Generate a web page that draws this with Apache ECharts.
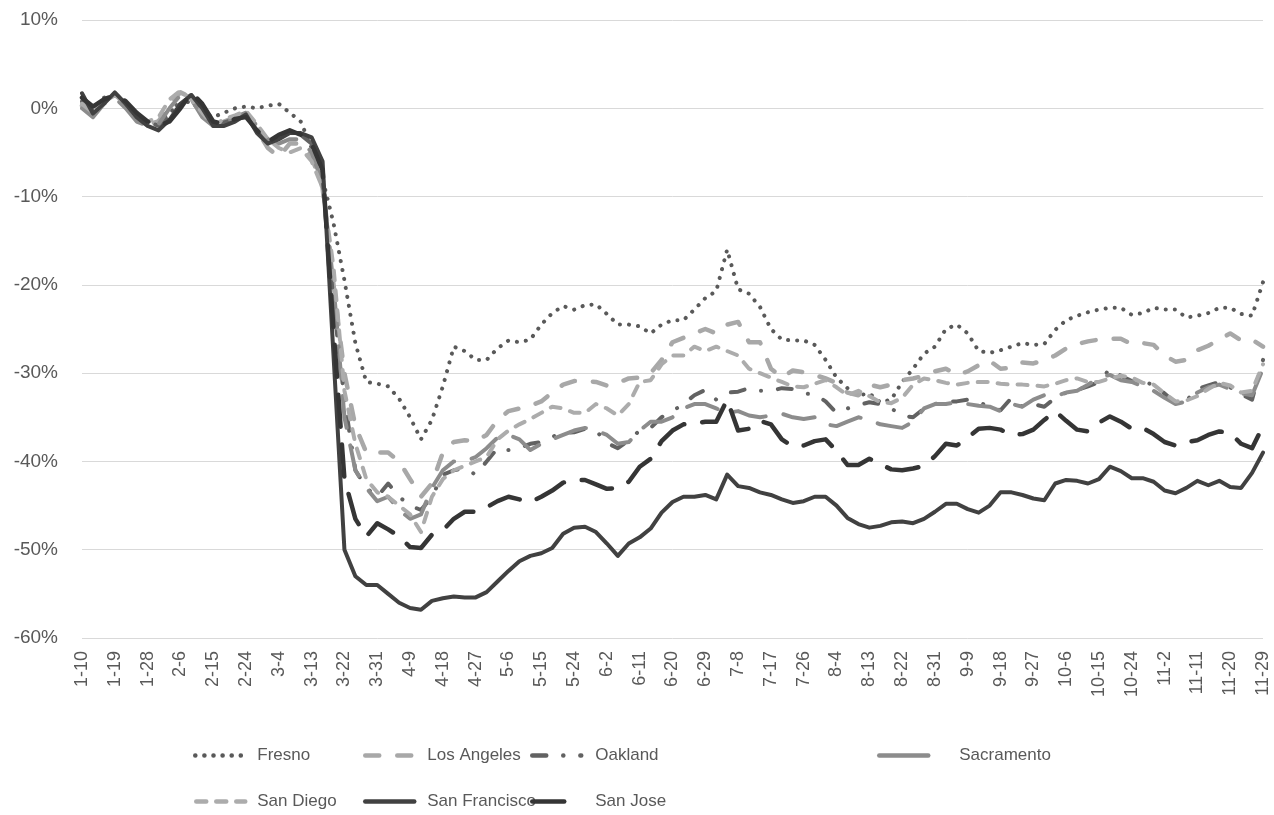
<!DOCTYPE html>
<html>
<head>
<meta charset="utf-8">
<script src="https://cdn.jsdelivr.net/npm/echarts@6/dist/echarts.min.js"></script>
<style>
html,body{margin:0;padding:0;background:#fff;}
#chart{width:1274px;height:815px;}
</style>
</head>
<body>
<div id="chart"></div>
<script>
// dates, one point every 3 days (2020)
var dates = [
  '1-10','1-13','1-16','1-19','1-22','1-25','1-28','1-31',
  '2-3','2-6','2-9','2-12','2-15','2-18','2-21','2-24','2-27',
  '3-1','3-4','3-7','3-10','3-13','3-16','3-19','3-22','3-25','3-28','3-31',
  '4-3','4-6','4-9','4-12','4-15','4-18','4-21','4-24','4-27','4-30',
  '5-3','5-6','5-9','5-12','5-15','5-18','5-21','5-24','5-27','5-30',
  '6-2','6-5','6-8','6-11','6-14','6-17','6-20','6-23','6-26','6-29',
  '7-2','7-5','7-8','7-11','7-14','7-17','7-20','7-23','7-26','7-29',
  '8-1','8-4','8-7','8-10','8-13','8-16','8-19','8-22','8-25','8-28','8-31',
  '9-3','9-6','9-9','9-12','9-15','9-18','9-21','9-24','9-27','9-30',
  '10-3','10-6','10-9','10-12','10-15','10-18','10-21','10-24','10-27','10-30',
  '11-2','11-5','11-8','11-11','11-14','11-17','11-20','11-23','11-26','11-29'
];

var fresno = [
  0.5, 0, 1.2, 1.5, 0.5, -0.8, -1.5, -1.5, -0.5, 0.5,
  0.8, -0.5, -1, -0.5, 0, 0.2, 0, 0.3, 0.5, -0.5,
  -1.5, -4.5, -8, -13, -19.5, -26.6, -31, -31.2, -31.5, -32.9,
  -35, -37.5, -35.3, -31.5, -27, -27.5, -28.5, -28.5, -27.2, -26.3,
  -26.5, -26.2, -24.5, -23.2, -22.4, -22.8, -22.3, -22.2, -23.3, -24.5,
  -24.5, -24.7, -25.5, -24.5, -24, -24, -22.8, -21.5, -20.7, -16,
  -20.5, -21, -22.5, -25, -26.2, -26.3, -26.3, -26.8, -28.5, -30.5,
  -31.7, -32.5, -32.3, -33.3, -33, -31, -29.5, -27.8, -27, -25,
  -24.5, -25.5, -27.5, -27.7, -27.4, -27, -26.6, -26.8, -26.7, -25.1,
  -24, -23.5, -23.1, -22.8, -22.6, -22.6, -23.4, -23.2, -22.6, -22.8,
  -22.8, -23.7, -23.5, -23.2, -22.6, -22.6, -23.3, -23.5, -19.7
];

var losAngeles = [
  0.3, -0.8, 0.8, 1.5, 0.2, -1.2, -1.8, -1.5, 0.5, 1.8,
  1.2, -0.5, -2.2, -1.5, -1, -0.5, -2.5, -4.5, -5.5, -4,
  -4, -5.5, -9, -20, -30, -36, -39, -39, -39, -40,
  -42, -44, -42.5, -39, -37.8, -37.6, -37.7, -37, -35.3, -34.3,
  -34, -33.7, -33.2, -32.2, -31.3, -30.9, -30.9, -31, -31.4, -31.1,
  -30.6, -30.5, -30, -28.5, -26.5, -26, -25.5, -25, -25.5, -24.5,
  -24.2, -26.5, -26.5, -29.5, -30.5, -29.7, -29.9, -30.2, -30.6, -31.1,
  -32.2, -32.5, -31.3, -31.6, -31.3, -30.8, -30.6, -30.3, -29.8, -29.5,
  -30.2, -29.8, -29.1, -28.6, -29.5, -29.4, -28.8, -28.9, -28.5, -28,
  -27.2, -26.7, -26.4, -26.2, -26.1, -26.1, -26.7, -26.6, -26.8, -28,
  -28.7, -28.5, -27.4, -26.9, -26.2, -25.5, -26.3, -26.2, -27
];

var oakland = [
  0.8, -0.3, 1, 1.8, 0.3, -0.8, -1.5, -2, -0.8, 1,
  1.5, -0.3, -1.8, -1.6, -1.2, -0.8, -2.6, -3.8, -3.2, -2.6,
  -3, -4, -8, -22, -33, -41, -43, -44, -42.5, -44,
  -45, -45.5, -44, -41.5, -41, -40.8, -41.5, -40, -38.5, -38.7,
  -38.5, -38, -37.8, -37.2, -36.8, -36.7, -36.3, -36.5, -37.9, -38.5,
  -37.6, -36.5, -36.2, -35, -34.3, -33.5, -32.5, -31.9, -33, -32.2,
  -32.1, -31.7, -32, -32, -31.7, -31.8, -32.3, -32.4, -33.2, -34.5,
  -34, -33.6, -33.3, -33.5, -34, -34.8, -35, -34, -33.5, -33.2,
  -33.2, -33, -33.3, -33.8, -34.2, -32.8, -33.8, -33.5, -33.8, -32.8,
  -32.2, -31.9, -31.5, -31, -29.5, -30.3, -30.9, -31, -31.3, -32.3,
  -33.4, -33.1, -31.8, -31.4, -31, -31.6, -32.4, -33, -28.5
];

var sacramento = [
  0, -1, 0.5, 1.2, 0, -1.5, -2, -1.8, 0, 1.5,
  1, -1, -2, -1.5, -1, -0.5, -2, -3.5, -4, -3.5,
  -3.5, -5, -8.5, -20, -35, -41, -43, -44.5, -44, -45.5,
  -46.5, -46, -43, -41, -40, -40, -39.5, -38.5, -37.3, -37,
  -37.5, -38.7, -38, -37.5, -37, -36.5, -36.2, -36.5, -37, -38,
  -37.8, -36.5, -35.5, -35.5, -35, -34, -33.5, -33.5, -34, -34.5,
  -34.3, -34.8, -35, -34.8, -34.6, -35, -35.2, -35, -35.8, -36,
  -35.5, -35, -35.3, -35.8, -36, -36.2, -35.5, -34, -33.5, -33.5,
  -33.3, -33.5, -33.7, -33.8, -34.3, -33.5, -33.8, -33, -32.5, -32.6,
  -32.2, -32, -31.3, -30.5, -30.2, -30.8, -31, -31.5, -32, -32.8,
  -33.5, -33.2, -32.2, -31.6, -31.3, -31.8, -32.3, -32.5, -29.5
];

var sanDiego = [
  0.5, -0.5, 1, 1.5, 0.5, -1, -1.5, -1, 1, 2,
  1, -0.5, -2, -1.2, -0.8, -0.3, -1.8, -3.5, -4.5, -5,
  -4.5, -6, -9, -18, -32, -38, -42, -43.5, -44, -45,
  -46, -48, -44, -42, -41, -40.5, -40, -39.5, -37.5, -36.5,
  -35.8, -35.2, -34.5, -33.8, -34, -34.5, -34.5, -33.5, -34, -34.8,
  -33.5, -31, -30.8, -29, -28, -28, -27, -27.5, -27, -27.5,
  -28, -29.5, -30, -30.5, -31, -31.5, -31.6, -31.2, -30.8, -31.6,
  -32.5, -32, -32.6, -33.3, -33.4, -32.8, -31.3, -30.6, -30.8, -31.1,
  -31.3, -31.1, -31, -31, -31.2, -31.3, -31.3, -31.4, -31.5, -31.2,
  -30.8, -30.6, -31, -31, -30.6, -30.3, -30.5, -31.1, -31.3, -32.3,
  -33.2, -33.1, -32.6, -31.8, -31.1, -31.4, -32.2, -32, -29
];

var sanFrancisco = [
  1.7, -0.6, 0.5, 1.8, 0.5, -1, -2, -2.5, -1.3, 0.5,
  1.5, 0, -2, -2, -1.5, -0.7, -2.8, -4, -3.5, -2.8,
  -2.8, -3.3, -6, -28, -50, -53, -54, -54, -55, -56,
  -56.6, -56.8, -55.8, -55.5, -55.3, -55.4, -55.4, -54.8, -53.6, -52.4,
  -51.3, -50.7, -50.4, -49.8, -48.2, -47.5, -47.4, -48, -49.3, -50.7,
  -49.3, -48.6, -47.6, -45.8, -44.6, -44, -44, -43.8, -44.3, -41.5,
  -42.8, -43, -43.5, -43.8, -44.3, -44.7, -44.5, -44, -44, -45,
  -46.4, -47.1, -47.5, -47.3, -46.9, -46.8, -47, -46.5, -45.7, -44.8,
  -44.8, -45.4, -45.8, -45, -43.5, -43.5, -43.8, -44.2, -44.4, -42.5,
  -42.1, -42.2, -42.5, -42, -40.6, -41.1, -41.9, -41.9, -42.3, -43.3,
  -43.6, -43, -42.2, -42.7, -42.2, -42.9, -43, -41.3, -39
];

var sanJose = [
  1.2, 0.2, 1, 1.5, 0.8, -0.5, -1.5, -2, -1.5, 0,
  1.8, 0.5, -1.5, -1.8, -1.2, -1, -2.5, -3.8, -3, -2.5,
  -3, -4, -7, -25, -42, -46.5, -48.5, -47, -47.7, -48.5,
  -49.7, -49.8, -48.3, -47.8, -46.5, -45.7, -45.7, -45.2, -44.5, -44,
  -44.3, -44.6, -44, -43.3, -42.4, -42.1, -42.1, -42.6, -43.1, -43,
  -42.3, -40.6, -39.7, -37.7, -36.5, -35.8, -35.7, -35.5, -35.5, -33,
  -36.5, -36.3, -35.4, -35.8, -37.5, -38.3, -38.2, -37.7, -37.5, -38.8,
  -40.4, -40.4, -39.7, -40.3, -40.9, -41, -40.8, -40.5, -39.4, -38,
  -38.2, -37.3, -36.3, -36.2, -36.4, -37, -36.9, -36.4, -35.3, -34.3,
  -35.4, -36.4, -36.6, -35.6, -34.9, -35.5, -36.3, -36.2, -36.9, -37.8,
  -38.2, -37.8, -37.6, -37, -36.6, -36.8, -38, -38.5, -36
];

var yTicks = [-60, -50, -40, -30, -20, -10, 0, 10];

var FONT = "'Liberation Sans', Arial, sans-serif";
var TEXT = '#595959';

// legend placement: [name, row, symbol left, text left]
var legendSlots = [
  ['Fresno', 0, 193, 255],
  ['Los Angeles', 0, 363, 425],
  ['Oakland', 0, 530, 593],
  ['Sacramento', 0, 877, 957],
  ['San Diego', 1, 194, 255],
  ['San Francisco', 1, 363, 425],
  ['San Jose', 1, 530, 593]
];

var chart = echarts.init(document.getElementById('chart'));

function mk(name, data, color, width, dash) {
  return {
    name: name,
    type: 'line',
    data: data,
    symbol: 'none',
    smooth: false,
    lineStyle: {
      color: color,
      width: width,
      type: dash,
      cap: 'round',
      join: 'round'
    },
    itemStyle: { color: color }
  };
}

var series = [
  mk('Fresno', fresno, '#595959', 4, [0.1, 9]),
  mk('Los Angeles', losAngeles, '#a8a8a8', 4.5, [14, 18]),
  mk('Oakland', oakland, '#626262', 4, [14, 17, 0.1, 17]),
  mk('Sacramento', sacramento, '#8c8c8c', 4, [32, 18]),
  mk('San Diego', sanDiego, '#acacac', 4, [10, 10]),
  mk('San Francisco', sanFrancisco, '#414141', 4, 'solid'),
  mk('San Jose', sanJose, '#353535', 4.5, [32, 18])
];

var ITEM_W = 49;
var legends = legendSlots.map(function (s) {
  var item = { name: s[0] };
  if (s[0] === 'Sacramento') item.lineStyle = { type: 'solid' };
  return {
    data: [item],
    left: s[2],
    top: s[1] === 0 ? 747 : 793,
    itemWidth: ITEM_W,
    itemHeight: 14,
    padding: 0,
    itemStyle: { opacity: 0 },
    lineStyle: { width: 4.5, cap: 'round' },
    textStyle: {
      color: TEXT,
      fontFamily: FONT,
      fontSize: 17,
      lineHeight: 14,
      padding: [0, 0, 0, s[3] - s[2] - ITEM_W - 5]
    }
  };
});

chart.setOption({
  animation: false,
  backgroundColor: '#fff',
  grid: {
    left: 82,
    right: 11,
    top: 20,
    bottom: 177,
    containLabel: false
  },
  legend: legends,
  xAxis: {
    type: 'category',
    data: dates,
    boundaryGap: false,
    axisLine: { lineStyle: { color: '#d9d9d9', width: 1 } },
    axisTick: { show: false },
    axisLabel: {
      interval: 2,
      rotate: 90,
      margin: 13,
      color: TEXT,
      fontFamily: FONT,
      fontSize: 18
    },
    splitLine: { show: false }
  },
  yAxis: {
    type: 'value',
    min: yTicks[0],
    max: yTicks[yTicks.length - 1],
    interval: 10,
    axisLine: { show: false },
    axisTick: { show: false },
    axisLabel: {
      margin: 24,
      color: TEXT,
      fontFamily: FONT,
      fontSize: 19,
      formatter: '{value}%'
    },
    splitLine: { lineStyle: { color: '#d9d9d9', width: 1 } }
  },
  series: series
});
</script>
</body>
</html>
